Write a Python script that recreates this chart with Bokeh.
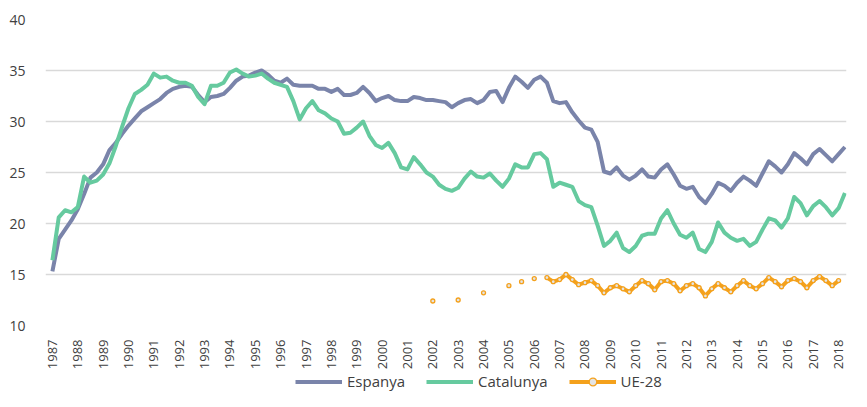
import numpy as np
from math import pi
from bokeh.plotting import figure
from bokeh.layouts import column
from bokeh.models import Range1d, FixedTicker, Legend, LegendItem, ColumnDataSource
from bokeh.embed import file_html
from bokeh.resources import INLINE

# ---------------- data (quarterly, 1987Q1 .. 2018Q2) ----------------
years = [str(y) for y in range(1987, 2019)]
y_ticks = [10, 15, 20, 25, 30, 35, 40]

espanya = [15.3, 18.5, 19.4, 20.3, 21.4, 22.9, 24.5, 25.0, 25.8, 27.2,
           27.9, 28.8, 29.6, 30.3, 31.0, 31.4, 31.8, 32.2, 32.8, 33.2,
           33.4, 33.5, 33.4, 32.6, 31.9, 32.4, 32.5, 32.7, 33.3, 34.0,
           34.4, 34.5, 34.8, 35.0, 34.6, 34.0, 33.8, 34.2, 33.6, 33.5,
           33.5, 33.5, 33.2, 33.2, 32.9, 33.2, 32.6, 32.6, 32.8, 33.4,
           32.8, 32.0, 32.3, 32.5, 32.1, 32.0, 32.0, 32.4, 32.3, 32.1,
           32.1, 32.0, 31.9, 31.4, 31.8, 32.1, 32.2, 31.8, 32.1, 32.9,
           33.0, 31.9, 33.3, 34.4, 33.9, 33.3, 34.1, 34.4, 33.8, 32.0,
           31.8, 31.9, 30.9, 30.1, 29.4, 29.2, 28.0, 25.1, 24.9, 25.5,
           24.7, 24.3, 24.7, 25.3, 24.6, 24.5, 25.3, 25.8, 24.8, 23.7,
           23.4, 23.6, 22.6, 22.0, 22.9, 24.0, 23.7, 23.2, 24.0, 24.6,
           24.2, 23.7, 24.9, 26.1, 25.6, 25.0, 25.8, 26.9, 26.4, 25.8,
           26.8, 27.3, 26.7, 26.1, 26.8, 27.5]

catalunya = [16.4, 20.6, 21.3, 21.1, 21.6, 24.6, 24.0, 24.2, 24.8, 25.9,
             27.6, 29.5, 31.3, 32.7, 33.1, 33.6, 34.7, 34.3, 34.4, 34.0,
             33.8, 33.8, 33.5, 32.4, 31.7, 33.5, 33.5, 33.8, 34.8, 35.1,
             34.7, 34.4, 34.5, 34.7, 34.2, 33.8, 33.6, 33.4, 32.0, 30.2,
             31.3, 32.0, 31.1, 30.8, 30.3, 30.0, 28.8, 28.9, 29.4, 30.0,
             28.6, 27.7, 27.4, 27.9, 26.9, 25.5, 25.3, 26.5, 25.8, 25.0,
             24.6, 23.8, 23.4, 23.2, 23.5, 24.4, 25.1, 24.6, 24.5, 24.9,
             24.2, 23.6, 24.4, 25.8, 25.5, 25.5, 26.8, 26.9, 26.3, 23.6,
             24.0, 23.8, 23.6, 22.2, 21.8, 21.6, 19.8, 17.8, 18.3, 19.1,
             17.6, 17.2, 17.8, 18.8, 19.0, 19.0, 20.5, 21.3, 20.0, 18.9,
             18.6, 19.1, 17.5, 17.2, 18.2, 20.1, 19.1, 18.6, 18.3, 18.5,
             17.8, 18.2, 19.4, 20.5, 20.3, 19.6, 20.5, 22.6, 22.0, 20.8,
             21.7, 22.2, 21.6, 20.8, 21.5, 23.0]

ue28 = [None] * 60 + [
    12.4, None, None, None, 12.5, None, None, None, 13.2, None,
    None, None, 13.9, None, 14.3, None, 14.6, None,
    14.7, 14.3, 14.5, 15.0, 14.5, 14.0, 14.2, 14.4, 13.9, 13.2,
    13.7, 13.9, 13.6, 13.3, 13.9, 14.4, 14.1, 13.5, 14.3, 14.4,
    14.1, 13.4, 13.9, 14.1, 13.7, 12.9, 13.6, 14.1, 13.7, 13.3,
    13.9, 14.4, 13.9, 13.6, 14.1, 14.7, 14.3, 13.8, 14.4, 14.6,
    14.3, 13.7, 14.4, 14.8, 14.4, 13.9, 14.4, None]

series_names = ["Espanya", "Catalunya", "UE-28"]

# ---------------- styles ----------------
FONT = "Open Sans"
TXT = "#404040"
C_ESP = "#7A84AA"
C_CAT = "#66CA9F"
C_UE = "#F4A11C"

quarters = list(range(len(espanya)))
src = ColumnDataSource(dict(
    q=quarters,
    esp=espanya,
    cat=catalunya,
    ue=np.array(ue28, dtype=float),
))


def draw_series(fig):
    r1 = fig.line("q", "esp", source=src, line_color=C_ESP, line_width=4,
                  line_join="round")
    r2 = fig.line("q", "cat", source=src, line_color=C_CAT, line_width=4,
                  line_join="round")
    r3 = fig.line("q", "ue", source=src, line_color=C_UE, line_width=4,
                  line_join="round")
    r4 = fig.scatter("q", "ue", source=src, size=4, fill_color="#E4E4E4",
                     line_color=C_UE, line_width=1.3)
    return r1, r2, r3, r4


# ---------------- main chart ----------------
p = figure(width=851, height=372, output_backend="svg", toolbar_location=None,
           x_range=Range1d(-1.09, 125.25), y_range=Range1d(10, 40),
           min_border_left=45, min_border_right=5, min_border_top=19,
           min_border_bottom=46)
p.outline_line_color = None
p.background_fill_color = "white"
p.border_fill_color = "white"

p.xgrid.visible = False
p.ygrid.ticker = FixedTicker(ticks=y_ticks)
p.ygrid.grid_line_color = "#D9D9D9"
p.ygrid.grid_line_width = 1.5

p.yaxis.ticker = FixedTicker(ticks=y_ticks)
p.yaxis.axis_line_color = None
p.yaxis.major_tick_line_color = None
p.yaxis.minor_tick_line_color = None
p.yaxis.major_label_text_font = FONT
p.yaxis.major_label_text_font_size = "14px"
p.yaxis.major_label_text_color = TXT
p.yaxis.major_label_standoff = 14

tick_pos = list(range(0, len(years) * 4, 4))
p.xaxis.ticker = FixedTicker(ticks=tick_pos)
p.xaxis.major_label_overrides = {t: years[i] for i, t in enumerate(tick_pos)}
p.xaxis.major_label_orientation = pi / 2
p.xaxis.axis_line_color = None
p.xaxis.major_tick_line_color = None
p.xaxis.minor_tick_line_color = None
p.xaxis.major_label_text_font = FONT
p.xaxis.major_label_text_font_size = "13px"
p.xaxis.major_label_text_color = TXT
p.xaxis.major_label_standoff = 8

draw_series(p)

# ---------------- legend strip (same series, legend only) ----------------
lg = figure(width=851, height=19, output_backend="svg", toolbar_location=None,
            x_range=Range1d(-1000, -999), y_range=Range1d(0, 1),
            x_axis_location=None, y_axis_location=None,
            min_border_left=0, min_border_right=0, min_border_top=0,
            min_border_bottom=0)
lg.outline_line_color = None
lg.xgrid.visible = False
lg.ygrid.visible = False
l1, l2, l3, l4 = draw_series(lg)

legend = Legend(items=[
    LegendItem(label=series_names[0], renderers=[l1]),
    LegendItem(label=series_names[1], renderers=[l2]),
    LegendItem(label=series_names[2], renderers=[l3, l4]),
], orientation="horizontal", location=(250, 0))
legend.border_line_color = None
legend.background_fill_alpha = 0
legend.label_text_font = FONT
legend.label_text_font_size = "15px"
legend.label_text_color = TXT
legend.glyph_width = 47
legend.glyph_height = 19
legend.label_height = 19
legend.label_standoff = 5
legend.spacing = 21
legend.padding = 0
legend.margin = 0
lg.add_layout(legend, "center")

layout = column(p, lg, spacing=0)
open("out.html", "w").write(file_html(layout, INLINE))
